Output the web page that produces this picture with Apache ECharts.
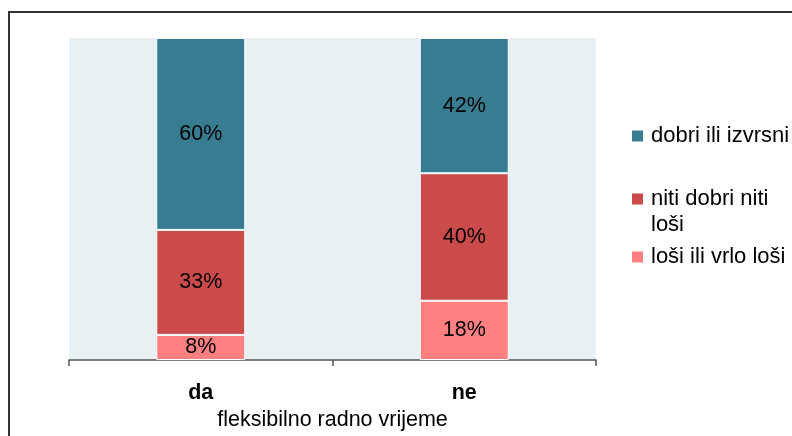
<!DOCTYPE html>
<html>
<head>
<meta charset="utf-8">
<script src="https://cdn.jsdelivr.net/npm/echarts@6/dist/echarts.min.js"></script>
<style>html,body{margin:0;padding:0;background:#fff}#c{width:792px;height:436px}</style>
</head>
<body>
<div id="c"></div>
<script>
var categories = ['da', 'ne'];
var seriesNames = ['loši ili vrlo loši', 'niti dobri niti loši', 'dobri ili izvrsni'];
var losi = [7.8, 18.4];
var niti = [32.6, 39.6];
var dobri = [59.6, 42.0];
var axisName = 'fleksibilno radno vrijeme';

var FONT = '"Liberation Sans", Arial, sans-serif';
var FS = 21.5;
var colors = ['#FF8080', '#CB4B4B', '#377C90'];
var values = [losi, niti, dobri];

var chart = echarts.init(document.getElementById('c'), null, {renderer: 'canvas'});
var series = seriesNames.map(function (n, i) {
  return {
    name: n,
    type: 'bar',
    stack: 'total',
    barWidth: 89,
    data: values[i],
    itemStyle: {color: colors[i], borderColor: '#ffffff', borderWidth: 1},
    label: {
      show: true, position: 'inside', color: '#000', fontSize: FS, fontFamily: FONT,
      formatter: function (p) { return Math.round(p.value) + '%'; }
    }
  };
});

function leg(name, top, extra) {
  var o = {
    data: [name], orient: 'vertical', left: 632, top: top, padding: 0,
    icon: 'rect', itemWidth: 11, itemHeight: 11, itemGap: 0,
    selectedMode: false,
    itemStyle: {borderWidth: 0},
    textStyle: {fontSize: 22, fontFamily: FONT, color: '#000', padding: [0, 0, 0, 3]}
  };
  if (extra) { for (var k in extra) o[k] = extra[k]; }
  return o;
}

chart.setOption({
  animation: false,
  graphic: [{
    type: 'rect', shape: {x: 9, y: 12, width: 900, height: 500},
    style: {fill: null, stroke: '#333', lineWidth: 2}, silent: true, z: 100
  }],
  grid: {left: 69, top: 38, right: 196, bottom: 76, show: true, backgroundColor: '#E8F0F4', borderWidth: 0},
  legend: [
    leg(seriesNames[2], 125),
    leg(seriesNames[1], 162, {
      formatter: function () { return '{e| }\n{a|niti dobri niti}\n{a|loši}'; },
      textStyle: {
        fontSize: 22, fontFamily: FONT, color: '#000', padding: [0, 0, 0, 3],
        rich: {
          e: {fontSize: 22, fontFamily: FONT, lineHeight: 26},
          a: {fontSize: 22, fontFamily: FONT, color: '#000', lineHeight: 26}
        }
      }
    }),
    leg(seriesNames[0], 246)
  ],
  xAxis: {
    type: 'category', data: categories,
    axisLine: {show: true, lineStyle: {color: '#555', width: 1.5}},
    axisTick: {show: true, length: 6, lineStyle: {color: '#555', width: 1.5}},
    axisLabel: {fontSize: FS, fontWeight: 'bold', color: '#000', fontFamily: FONT, margin: 22},
    name: axisName, nameLocation: 'middle', nameGap: 49,
    nameTextStyle: {fontSize: FS, color: '#000', fontFamily: FONT}
  },
  yAxis: {type: 'value', min: 0, max: 100, show: false, splitLine: {show: false}},
  series: series
});
</script>
</body>
</html>
